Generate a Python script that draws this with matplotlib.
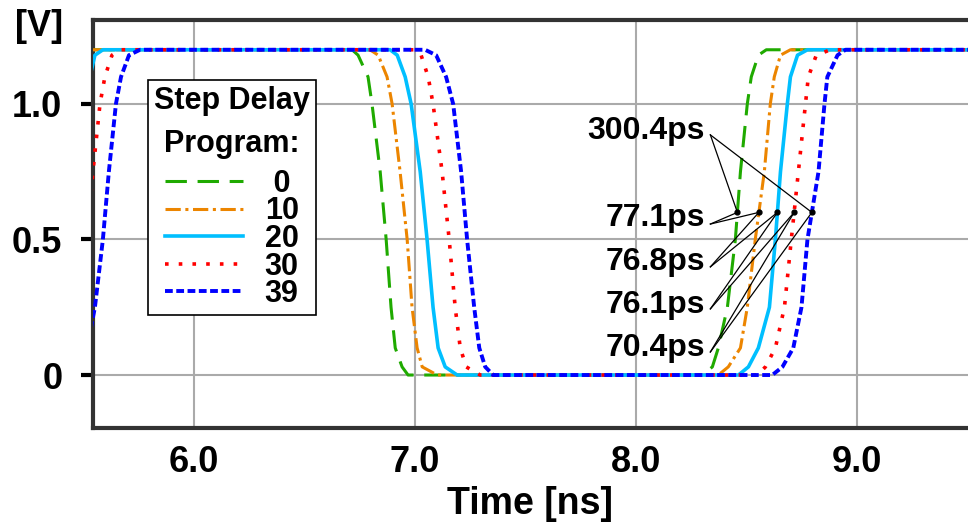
import matplotlib
matplotlib.use("Agg")
import matplotlib.pyplot as plt
import numpy as np

plt.rcParams["font.family"] = ["Liberation Sans", "DejaVu Sans"]
plt.rcParams["font.weight"] = "bold"

# Step delay program settings (legend entries)
programs = ["0", "10", "20", "30", "39"]
colors = ["#1faa00", "#ec8500", "#00bfff", "#ff0000", "#0000ff"]
styles = [(0, (7, 3.5)), (0, (5, 1.5, 1, 1.5)), "-", (0, (1, 2.8)), (0, (2, 0.9))]
widths = [2.2, 2.2, 2.6, 2.6, 2.8]

# Voltage levels [V] at which the waveform times were read
start_v = [0.0, 0.25, 0.5, 0.75, 1.0, 1.1, 1.18, 1.2]
fall_v = [1.2, 1.18, 1.1, 1.0, 0.75, 0.5, 0.25, 0.1, 0.03, 0.0]
rise_v = [0.0, 0.03, 0.1, 0.25, 0.5, 0.75, 1.0, 1.1, 1.18, 1.2]

# Times [ns] of the first rising edge (None = already high)
start_t = [
    None,
    None,
    [5.416, 5.443, 5.462, 5.484, 5.511, 5.529, 5.552, 5.588],
    [5.439, 5.484, 5.516, 5.543, 5.575, 5.597, 5.629, 5.665],
    [5.493, 5.552, 5.588, 5.615, 5.647, 5.670, 5.706, 5.756],
]

# Times [ns] of the falling edge
fall_t = [
    [6.715, 6.742, 6.787, 6.805, 6.842, 6.869, 6.891, 6.910, 6.941, 6.968],
    [6.796, 6.833, 6.873, 6.896, 6.932, 6.964, 6.986, 7.009, 7.032, 7.100],
    [6.887, 6.919, 6.955, 6.982, 7.023, 7.054, 7.081, 7.104, 7.136, 7.190],
    [7.000, 7.027, 7.059, 7.081, 7.122, 7.154, 7.181, 7.204, 7.231, 7.294],
    [7.045, 7.095, 7.140, 7.172, 7.208, 7.235, 7.267, 7.290, 7.317, 7.353],
]

# Times [ns] of the second rising edge
rise_t = [
    [8.299, 8.344, 8.371, 8.412, 8.448, 8.471, 8.502, 8.520, 8.552, 8.588],
    [8.371, 8.416, 8.471, 8.502, 8.538, 8.579, 8.606, 8.624, 8.652, 8.697],
    [8.462, 8.507, 8.552, 8.602, 8.629, 8.652, 8.683, 8.697, 8.729, 8.774],
    [8.548, 8.584, 8.629, 8.670, 8.701, 8.733, 8.765, 8.778, 8.814, 8.878],
    [8.615, 8.661, 8.710, 8.747, 8.774, 8.824, 8.851, 8.864, 8.910, 8.946],
]

t_first, t_last = 5.40, 9.60
v_mark = 0.6

# Delay annotations: text, text y, line start y
delay_labels = ["300.4ps", "77.1ps", "76.8ps", "76.1ps", "70.4ps"]
label_y = [0.900, 0.579, 0.417, 0.258, 0.100]
line_y = [0.886, 0.557, 0.399, 0.244, 0.085]
label_x = 8.31
line_x = 8.335

fig = plt.figure(figsize=(9.68, 5.25), dpi=100)
ax = fig.add_axes([0.096, 0.185, 0.904, 0.777])

for i, prog in enumerate(programs):
    if start_t[i] is None:
        t = [t_first]
        v = [1.2]
    else:
        t = [t_first] + start_t[i]
        v = [0.0] + start_v
    t = t + fall_t[i] + rise_t[i] + [t_last]
    v = v + fall_v + rise_v + [1.2]
    lbl = " " + prog if len(prog) == 1 else prog
    ax.plot(t, v, color=colors[i], linestyle=styles[i], linewidth=widths[i],
            label=lbl, zorder=3)

# 0.6 V crossing points on the second rising edge
marks = [np.interp(v_mark, rise_v, rt) for rt in rise_t]
ax.plot(marks, [v_mark] * len(marks), "o", color="black", markersize=3.5, zorder=5)

for j, txt in enumerate(delay_labels):
    ax.text(label_x, label_y[j], txt, ha="right", va="center",
            fontsize=23, fontweight="bold", zorder=6)
    if j == 0:
        ends = [marks[0], marks[-1]]
    else:
        ends = [marks[j - 1], marks[j]]
    for e in ends:
        ax.plot([line_x, e], [line_y[j], v_mark], color="black", linewidth=0.9, zorder=5)

ax.set_xlim(5.543, 9.50)
ax.set_ylim(-0.195, 1.31)
ax.set_xticks([6, 7, 8, 9])
ax.set_xticklabels(["6.0", "7.0", "8.0", "9.0"])
ax.set_yticks([0, 0.5, 1.0])
ax.set_yticklabels(["0", "0.5", "1.0"])
ax.tick_params(axis="x", length=0, pad=12, labelsize=26)
ax.tick_params(axis="y", length=9, width=3, pad=13, labelsize=26, color="black")
ax.grid(True, color="#aaaaaa", linewidth=1.5)
ax.set_axisbelow(True)
for side in ["left", "top", "bottom"]:
    ax.spines[side].set_linewidth(3)
    ax.spines[side].set_color("#333333")
ax.spines["right"].set_visible(False)

ax.set_xlabel("Time [ns]", fontsize=27, fontweight="bold", labelpad=5)
fig.text(0.04, 0.95, "[V]", fontsize=26, fontweight="bold", ha="center", va="center")

leg = ax.legend(loc="upper left", bbox_to_anchor=(0.063, 0.853), borderaxespad=0,
                title="Step Delay\nProgram:", fontsize=22, title_fontsize=22,
                fancybox=False, framealpha=1, edgecolor="black",
                handlelength=2.55, handletextpad=0.7, labelspacing=-0.08,
                borderpad=0.2)
leg.get_title().set_fontweight("bold")
leg.get_title().set_linespacing(1.57)
leg.get_title().set_multialignment("center")
leg._legend_box.sep = 7
leg.get_frame().set_linewidth(1.2)
leg.set_zorder(4)

plt.savefig("out.png", dpi=100)
